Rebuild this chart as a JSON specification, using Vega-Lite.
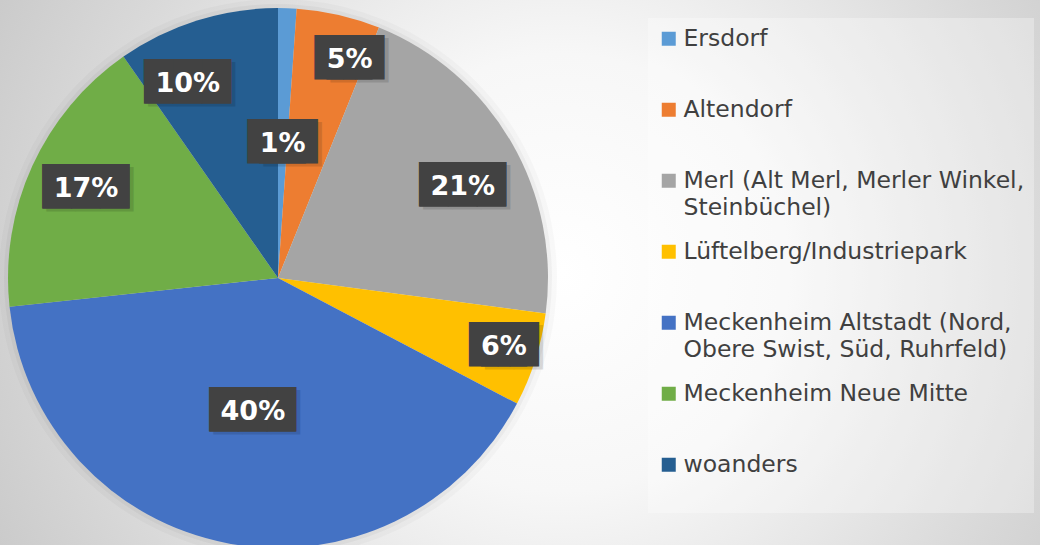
{
  "$schema": "https://vega.github.io/schema/vega-lite/v6.json",
  "width": 1040,
  "height": 545,
  "padding": 0,
  "autosize": {"type": "none"},
  "background": "#e0e0e0",
  "config": {"view": {"stroke": null}},
  "datasets": {
    "shares": [
      {"name": "Ersdorf", "value": 1.1, "label": "1%", "rank": 1},
      {"name": "Altendorf", "value": 5.0, "label": "5%", "rank": 2},
      {"name": "Merl (Alt Merl, Merler Winkel, Steinbüchel)", "value": 21.0, "label": "21%", "rank": 3},
      {"name": "Lüftelberg/Industriepark", "value": 5.6, "label": "6%", "rank": 4},
      {"name": "Meckenheim Altstadt (Nord, Obere Swist, Süd, Ruhrfeld)", "value": 40.6, "label": "40%", "rank": 5},
      {"name": "Meckenheim Neue Mitte", "value": 17.0, "label": "17%", "rank": 6},
      {"name": "woanders", "value": 9.7, "label": "10%", "rank": 7}
    ],
    "canvas": [{}]
  },
  "data": {"name": "shares"},
  "layer": [
    {
      "data": {"name": "canvas"},
      "mark": {
        "type": "rect",
        "fill": {
          "gradient": "radial",
          "x1": 0.54, "y1": 0.5, "x2": 0.54, "y2": 0.5, "r1": 0, "r2": 0.6,
          "stops": [
            {"offset": 0, "color": "#ffffff"},
            {"offset": 0.35, "color": "#f7f7f7"},
            {"offset": 0.78, "color": "#d9d9d9"},
            {"offset": 1, "color": "#cbcbcb"}
          ]
        }
      },
      "encoding": {}
    },
    {
      "mark": {"type": "arc", "outerRadius": 279, "x": 278, "y": 278, "fill": "#000000", "opacity": 0.025},
      "encoding": {
        "theta": {"field": "value", "type": "quantitative", "stack": true},
        "order": {"field": "rank", "type": "quantitative"}
      }
    },
    {
      "mark": {"type": "arc", "outerRadius": 274, "x": 278, "y": 278, "fill": "#000000", "opacity": 0.035},
      "encoding": {
        "theta": {"field": "value", "type": "quantitative", "stack": true},
        "order": {"field": "rank", "type": "quantitative"}
      }
    },
    {
      "mark": {"type": "arc", "outerRadius": 270, "x": 278, "y": 278},
      "encoding": {
        "theta": {"field": "value", "type": "quantitative", "stack": true},
        "order": {"field": "rank", "type": "quantitative"},
        "color": {
          "field": "name",
          "type": "nominal",
          "scale": {
            "domain": ["Ersdorf", "Altendorf", "Merl (Alt Merl, Merler Winkel, Steinbüchel)", "Lüftelberg/Industriepark", "Meckenheim Altstadt (Nord, Obere Swist, Süd, Ruhrfeld)", "Meckenheim Neue Mitte", "woanders"],
            "range": ["#5B9BD5", "#ED7D31", "#A5A5A5", "#FFC000", "#4472C4", "#70AD47", "#255E91"]
          },
          "legend": {
            "orient": "none",
            "legendX": 648,
            "legendY": 18,
            "title": null,
            "padding": 9,
            "fillColor": "rgba(255,255,255,0.3)",
            "symbolType": "square",
            "symbolSize": 196,
            "symbolStrokeWidth": 0,
            "labelFont": "DejaVu Sans",
            "labelFontSize": 23.5,
            "labelColor": "#404040",
            "labelOffset": 3,
            "labelLimit": 420,
            "rowPadding": 19,
            "labelExpr": "datum.label == 'Merl (Alt Merl, Merler Winkel, Steinbüchel)' ? ['Merl (Alt Merl, Merler Winkel,', 'Steinbüchel)'] : datum.label == 'Meckenheim Altstadt (Nord, Obere Swist, Süd, Ruhrfeld)' ? ['Meckenheim Altstadt (Nord,', 'Obere Swist, Süd, Ruhrfeld)'] : [datum.label, '']",
            "encode": {"labels": {"update": {"lineHeight": {"value": 27}}}}
          }
        }
      }
    },
    {
      "mark": {
        "type": "text",
        "x": 278, "y": 278,
        "radius": {"expr": "datum.label == '1%' ? 136 : datum.label == '5%' ? 230 : datum.label == '21%' ? 207 : datum.label == '6%' ? 234 : datum.label == '40%' ? 134 : datum.label == '17%' ? 211 : 214"},
        "dx": {"expr": "(datum.label == '5%' ? 20 : datum.label == '10%' ? -26 : datum.label == '21%' ? 6 : datum.label == '6%' ? 3 : 0) + 4 + (length(datum.label) == 2 ? 6 : 0)"},
        "dy": {"expr": "(datum.label == '21%' ? 11 : datum.label == '5%' ? 4 : datum.label == '10%' ? 8 : datum.label == '17%' ? -4 : datum.label == '6%' ? -4 : 0) + 4"},
        "text": {"expr": "length(datum.label) == 2 ? '██' : '███'"},
        "font": "DejaVu Sans",
        "fontSize": 37.5,
        "align": "center",
        "baseline": "middle",
        "fill": "#000000",
        "opacity": 0.12
      },
      "encoding": {
        "theta": {"field": "value", "type": "quantitative", "stack": true},
        "order": {"field": "rank", "type": "quantitative"},
        "detail": {"field": "name", "type": "nominal"}
      }
    },
    {
      "mark": {
        "type": "text",
        "x": 278, "y": 278,
        "radius": {"expr": "datum.label == '1%' ? 136 : datum.label == '5%' ? 230 : datum.label == '21%' ? 207 : datum.label == '6%' ? 234 : datum.label == '40%' ? 134 : datum.label == '17%' ? 211 : 214"},
        "dx": {"expr": "(datum.label == '5%' ? 20 : datum.label == '10%' ? -26 : datum.label == '21%' ? 6 : datum.label == '6%' ? 3 : 0) - (length(datum.label) == 2 ? 6 : 0)"},
        "dy": {"expr": "(datum.label == '21%' ? 11 : datum.label == '5%' ? 4 : datum.label == '10%' ? 8 : datum.label == '17%' ? -4 : datum.label == '6%' ? -4 : 0) + 1"},
        "text": {"expr": "length(datum.label) == 2 ? '██' : '███'"},
        "font": "DejaVu Sans",
        "fontSize": 37.5,
        "align": "center",
        "baseline": "middle",
        "fill": "#424242"
      },
      "encoding": {
        "theta": {"field": "value", "type": "quantitative", "stack": true},
        "order": {"field": "rank", "type": "quantitative"},
        "detail": {"field": "name", "type": "nominal"}
      }
    },
    {
      "mark": {
        "type": "text",
        "x": 278, "y": 278,
        "radius": {"expr": "datum.label == '1%' ? 136 : datum.label == '5%' ? 230 : datum.label == '21%' ? 207 : datum.label == '6%' ? 234 : datum.label == '40%' ? 134 : datum.label == '17%' ? 211 : 214"},
        "dx": {"expr": "(datum.label == '5%' ? 20 : datum.label == '10%' ? -26 : datum.label == '21%' ? 6 : datum.label == '6%' ? 3 : 0) + (length(datum.label) == 2 ? 6 : 0)"},
        "dy": {"expr": "(datum.label == '21%' ? 11 : datum.label == '5%' ? 4 : datum.label == '10%' ? 8 : datum.label == '17%' ? -4 : datum.label == '6%' ? -4 : 0) + 1"},
        "text": {"expr": "length(datum.label) == 2 ? '██' : '███'"},
        "font": "DejaVu Sans",
        "fontSize": 37.5,
        "align": "center",
        "baseline": "middle",
        "fill": "#424242"
      },
      "encoding": {
        "theta": {"field": "value", "type": "quantitative", "stack": true},
        "order": {"field": "rank", "type": "quantitative"},
        "detail": {"field": "name", "type": "nominal"}
      }
    },
    {
      "mark": {
        "type": "text",
        "x": 278, "y": 278,
        "radius": {"expr": "datum.label == '1%' ? 136 : datum.label == '5%' ? 230 : datum.label == '21%' ? 207 : datum.label == '6%' ? 234 : datum.label == '40%' ? 134 : datum.label == '17%' ? 211 : 214"},
        "dx": {"expr": "datum.label == '5%' ? 20 : datum.label == '10%' ? -26 : datum.label == '21%' ? 6 : datum.label == '6%' ? 3 : 0"},
        "dy": {"expr": "(datum.label == '21%' ? 11 : datum.label == '5%' ? 4 : datum.label == '10%' ? 8 : datum.label == '17%' ? -4 : datum.label == '6%' ? -4 : 0) + 2"},
        "font": "DejaVu Sans",
        "fontSize": 27,
        "fontWeight": "bold",
        "align": "center",
        "baseline": "middle",
        "fill": "#ffffff"
      },
      "encoding": {
        "theta": {"field": "value", "type": "quantitative", "stack": true},
        "order": {"field": "rank", "type": "quantitative"},
        "text": {"field": "label", "type": "nominal"},
        "detail": {"field": "name", "type": "nominal"}
      }
    }
  ]
}
